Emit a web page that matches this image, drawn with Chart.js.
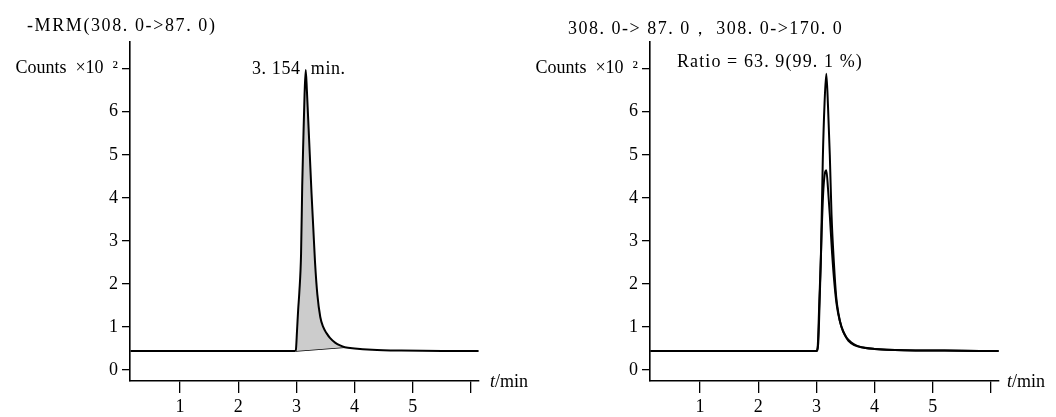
<!DOCTYPE html>
<html>
<head>
<meta charset="utf-8">
<script src="https://cdn.jsdelivr.net/npm/chart.js@4/dist/chart.umd.min.js"></script>
<style>
  html, body { margin:0; padding:0; background:#fff; }
  body { width:1056px; height:417px; position:relative; overflow:hidden; font-family:"Liberation Serif", "DejaVu Serif", serif; }
  .box { position:absolute; top:0; height:417px; width:528px; }
  .txt { position:absolute; font-size:18px; line-height:20px; color:#000; white-space:pre; }
</style>
</head>
<body>
<div class="box" style="left:0"><canvas id="c1"></canvas></div>
<div class="box" style="left:528px"><canvas id="c2"></canvas></div>
<div class="txt" style="left:27px;top:15px;letter-spacing:1.6px">-MRM(308. 0->87. 0)</div>
<div class="txt" style="left:252px;top:58px;letter-spacing:0.6px">3. 154  min.</div>
<div class="txt" style="left:568px;top:18px;letter-spacing:1.5px">308. 0-> 87. 0， 308. 0->170. 0</div>
<div class="txt" style="left:677px;top:51px;letter-spacing:1.1px">Ratio = 63. 9(99. 1 %)</div>
<div class="txt" style="left:490px;top:371px"><i>t</i>/min</div>
<div class="txt" style="left:1007px;top:371px"><i>t</i>/min</div>
<script>
// ---- data ----
const yTicks = [0, 1, 2, 3, 4, 5, 6, 7];
const yTickLabels = ['0', '1', '2', '3', '4', '5', '6', 'Counts  ×10  ²'];
const xTicks = [1, 2, 3, 4, 5, 6];
const xTickLabels = ['1', '2', '3', '4', '5', ''];

// left: MRM 308.0 -> 87.0
const leftT = [0.15, 1.0, 2.0, 2.97, 2.99, 3.01, 3.03, 3.05, 3.08, 3.10, 3.12, 3.14, 3.16, 3.18, 3.20, 3.23, 3.26, 3.29, 3.32, 3.36, 3.41, 3.46, 3.52, 3.58, 3.67, 3.75, 3.83, 4.0, 4.3, 4.8, 5.5, 6.13];
const leftV = [0.44, 0.44, 0.44, 0.44, 0.46, 0.9, 1.4, 1.8, 2.7, 4.3, 5.4, 6.4, 6.97, 6.5, 5.9, 5.0, 4.1, 3.3, 2.5, 1.75, 1.23, 1.0, 0.85, 0.74, 0.63, 0.57, 0.53, 0.50, 0.47, 0.45, 0.44, 0.44];
// integration baseline under the peak
const baseT = [2.99, 3.83];
const baseV = [0.44, 0.53];

// right: 308.0 -> 87.0 and 308.0 -> 170.0
const r87T = [0.15, 1.0, 2.0, 3.00, 3.02, 3.05, 3.08, 3.11, 3.14, 3.17, 3.20, 3.23, 3.26, 3.30, 3.34, 3.38, 3.43, 3.50, 3.55, 3.65, 3.80, 4.0, 4.5, 5.2, 6.13];
const r87V = [0.44, 0.44, 0.44, 0.44, 0.50, 1.6, 2.8, 4.9, 6.2, 6.88, 6.1, 5.0, 3.6, 2.5, 1.7, 1.3, 1.0, 0.78, 0.68, 0.58, 0.52, 0.49, 0.46, 0.45, 0.44];
const r170T = [0.15, 1.0, 2.0, 3.00, 3.03, 3.06, 3.09, 3.12, 3.15, 3.17, 3.20, 3.23, 3.27, 3.31, 3.35, 3.40, 3.46, 3.52, 3.60, 3.70, 3.85, 4.0, 4.5, 5.2, 6.13];
const r170V = [0.44, 0.44, 0.44, 0.44, 0.60, 1.8, 3.2, 4.2, 4.6, 4.64, 4.2, 3.6, 2.7, 2.0, 1.5, 1.15, 0.9, 0.75, 0.64, 0.56, 0.51, 0.49, 0.46, 0.45, 0.44];

const pts = (t, v) => t.map((x, i) => ({x, y: v[i]}));

Chart.defaults.font.family = '"Liberation Serif", "DejaVu Serif", serif';
Chart.defaults.font.size = 18;
Chart.defaults.color = '#000';

function makeOptions(yWidth, padRight) {
  return {
    responsive: true,
    maintainAspectRatio: false,
    animation: false,
    layout: { padding: { top: 42, right: padRight, left: 0, bottom: 0 } },
    plugins: { legend: { display: false }, tooltip: { enabled: false }, filler: { propagate: false } },
    elements: { point: { radius: 0 }, line: { borderWidth: 2, cubicInterpolationMode: 'monotone' } },
    scales: {
      x: {
        type: 'linear', min: 0.141, max: 6.137,
        afterBuildTicks: s => { s.ticks = xTicks.map(v => ({ value: v })); },
        afterFit: s => { s.height = 36; },
        grid: { drawOnChartArea: false, drawTicks: true, tickLength: 12, color: '#000', lineWidth: 1.3 },
        border: { display: true, color: '#000', width: 1.6 },
        ticks: { padding: 3, maxRotation: 0, autoSkip: false, callback: (v) => xTickLabels[xTicks.indexOf(v)] }
      },
      y: {
        type: 'linear', min: -0.256, max: 7.62,
        afterBuildTicks: s => { s.ticks = yTicks.map(v => ({ value: v })); },
        afterFit: s => { s.width = yWidth; },
        grid: { drawOnChartArea: false, drawTicks: true, tickLength: 8, color: '#000', lineWidth: 1.3 },
        border: { display: true, color: '#000', width: 1.6 },
        ticks: { padding: 4, autoSkip: false, callback: (v) => yTickLabels[yTicks.indexOf(v)] }
      }
    }
  };
}

new Chart(document.getElementById('c1'), {
  type: 'scatter',
  data: {
    datasets: [
      { data: pts(leftT, leftV), showLine: true, borderColor: '#000', backgroundColor: '#cccccc', fill: '+1', order: 1 },
      { data: pts(baseT, baseV), showLine: true, borderColor: '#000', borderWidth: 1.6, fill: false, cubicInterpolationMode: 'default', tension: 0, order: 2 }
    ]
  },
  options: makeOptions(130, 49)
});

new Chart(document.getElementById('c2'), {
  type: 'scatter',
  data: {
    datasets: [
      { data: pts(r87T, r87V), showLine: true, borderColor: '#000', fill: false },
      { data: pts(r170T, r170V), showLine: true, borderColor: '#000', fill: false }
    ]
  },
  options: makeOptions(122, 57)
});
</script>
</body>
</html>
